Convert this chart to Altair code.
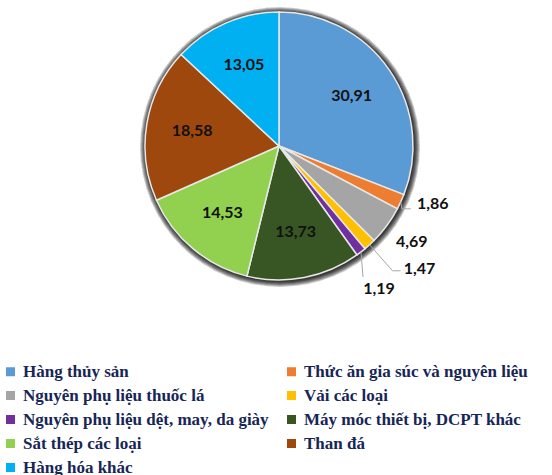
import math
import altair as alt
import pandas as pd

# ---- data ----
categories = [
    "Hàng thủy  sản",
    "Thức ăn gia súc và nguyên liệu",
    "Nguyên phụ liệu thuốc lá",
    "Vải các loại",
    "Nguyên phụ liệu dệt, may, da giày",
    "Máy móc thiết bị, DCPT khác",
    "Sắt thép các loại",
    "Than đá",
    "Hàng hóa khác",
]
values = [30.91, 1.86, 4.69, 1.47, 1.19, 13.73, 14.53, 18.58, 13.05]
colors = ["#5b9bd5", "#ed7d31", "#a5a5a5", "#ffc000", "#7030a0",
          "#375623", "#92d050", "#9e480e", "#00b0f0"]
inside = [True, False, False, False, False, True, True, True, True]

# ---- layout / style ----
W, H = 546, 292
R = 134
CX, CY = W / 2, H / 2
# outside label offsets from slice edge (px), and leader knee/end offsets from label
label_off = {1: (32, 2), 2: (25, 16), 3: (50, 24), 4: (18, 37)}
leader_off = {1: [(-31, 5), (-22, 5)], 3: [(-27, 2), (-19, 2)], 4: [(-16, -12), (-16, -12)]}

fmt = [f"{v:.2f}".replace(".", ",") for v in values]
df = pd.DataFrame({
    "category": categories,
    "value": values,
    "idx": list(range(len(values))),
    "inlabel": [f if i else "" for f, i in zip(fmt, inside)],
})

# outside labels & leader lines derived from the values
total = sum(values)
cum = 0
out_rows, line_rows = [], []
for i, v in enumerate(values):
    mid = (cum + v / 2) / total * 2 * math.pi
    cum += v
    if i in label_off:
        ex, ey = CX + R * math.sin(mid), CY - R * math.cos(mid)
        lx, ly = ex + label_off[i][0], ey + label_off[i][1]
        out_rows.append({"x": lx, "y": ly, "t": fmt[i]})
        if i in leader_off:
            pts = [(ex, ey)] + [(lx + a, ly + b) for a, b in leader_off[i]]
            for k, (px, py) in enumerate(pts):
                line_rows.append({"id": i, "k": k, "x": px, "y": py})
out_df = pd.DataFrame(out_rows)
line_df = pd.DataFrame(line_rows)

LABEL_FONT = "Lato"
LABEL_SIZE = 16

# soft shadow around the pie
shadow_layers = [
    alt.Chart(df).mark_arc(outerRadius=R + s, color="#000000", opacity=0.022, x=CX + 1, y=CY + 1)
    .encode(theta=alt.value(0), theta2=alt.value(2 * math.pi))
    for s in range(1, 7)
]

arc = alt.Chart(df).mark_arc(outerRadius=R, stroke="#e8e8e8", strokeWidth=1.5).encode(
    theta=alt.Theta("value:Q", stack=True),
    order=alt.Order("idx:Q", sort="ascending"),
    color=alt.Color(
        "category:N",
        scale=alt.Scale(domain=categories, range=colors),
        legend=alt.Legend(
            title=None, orient="none", legendX=-4, legendY=363,
            direction="horizontal",
            columns=2, columnPadding=14, rowPadding=6,
            symbolType="square", symbolSize=81, symbolStrokeWidth=0,
            labelFont="Liberation Serif", labelFontSize=17, labelFontWeight="bold",
            labelColor="#172656", labelLimit=400, labelOffset=4,
        ),
    ),
)

intext = alt.Chart(df).mark_text(
    radius=88, font=LABEL_FONT, fontSize=LABEL_SIZE, fontWeight="bold", color="#111111"
).encode(
    theta=alt.Theta("value:Q", stack=True),
    order=alt.Order("idx:Q", sort="ascending"),
    text="inlabel:N",
)

outtext = alt.Chart(out_df).mark_text(
    font=LABEL_FONT, fontSize=LABEL_SIZE, fontWeight="bold", color="#111111"
).encode(
    x=alt.X("x:Q", scale=None),
    y=alt.Y("y:Q", scale=None),
    text="t:N",
)

leaders = alt.Chart(line_df).mark_line(color="#a6a6a6", strokeWidth=1).encode(
    x=alt.X("x:Q", scale=None),
    y=alt.Y("y:Q", scale=None),
    detail="id:N",
    order="k:Q",
)

chart = alt.layer(*shadow_layers, arc, intext, leaders, outtext).properties(
    width=W, height=H,
    padding={"left": 6, "top": 0, "right": 0, "bottom": 183},
    autosize=alt.AutoSizeParams(type="none"),
).configure_view(stroke=None)

chart.save("out.html", embed_options={"renderer": "svg", "actions": False})
